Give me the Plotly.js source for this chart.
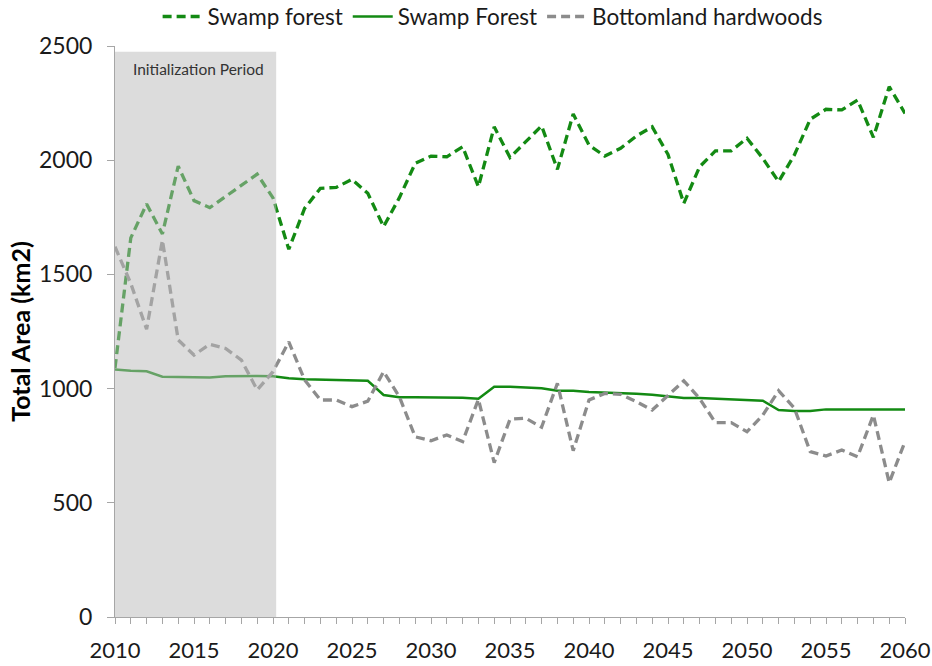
<!DOCTYPE html>
<html>
<head>
<meta charset="utf-8">
<script src="https://cdn.plot.ly/plotly-3.0.1.min.js"></script>
<style>html,body{margin:0;padding:0;background:#fff;}#chart{width:932px;height:666px;}</style>
</head>
<body>
<div id="chart"></div>
<script>
const years = [];
for (let y = 2010; y <= 2060; y++) years.push(y);

const swampForestDashed = [1090, 1660, 1808, 1677, 1974, 1823, 1792, 1840, 1890, 1939,
  1835, 1610, 1789, 1877, 1881, 1916, 1855, 1709, 1836, 1986,
  2018, 2015, 2059, 1884, 2146, 2012, 2081, 2150, 1960, 2202,
  2066, 2018, 2052, 2106, 2146, 2025, 1811, 1971, 2041, 2041,
  2096, 2008, 1906, 2023, 2179, 2223, 2220, 2263, 2100, 2322, 2205];

const swampForestSolid = [1084, 1078, 1076, 1052, 1051, 1051, 1049, 1054, 1056, 1055,
  1054, 1045, 1041, 1039, 1038, 1036, 1034, 972, 962, 962,
  962, 962, 960, 956, 1008, 1008, 1003, 1001, 991, 991,
  985, 983, 980, 977, 973, 966, 959, 959, 956, 955,
  953, 947, 906, 902, 902, 909, 909, 909, 909, 909, 909];

const bottomland = [1621, 1460, 1260, 1650, 1213, 1147, 1194, 1176, 1125, 994,
  1074, 1205, 1038, 950, 950, 921, 945, 1074, 964, 789,
  772, 797, 768, 953, 676, 866, 870, 831, 1023, 728,
  950, 979, 975, 943, 906, 972, 1034, 957, 851, 851,
  811, 884, 991, 914, 724, 705, 731, 702, 884, 588, 768];

const seriesNames = ["Swamp forest", "Swamp Forest", "Bottomland hardwoods"];
const initPeriod = [2010, 2020.2];
const tickYears = [2010, 2015, 2020, 2025, 2030, 2035, 2040, 2045, 2050, 2055, 2060];

const FONT = "Lato, 'Open Sans', 'Liberation Sans', sans-serif";

const traces = [
  {x: years, y: swampForestDashed, name: seriesNames[0], mode: "lines", type: "scatter",
   line: {color: "#138a13", width: 3.3, dash: "9px,5px"}},
  {x: years, y: swampForestSolid, name: seriesNames[1], mode: "lines", type: "scatter",
   line: {color: "#138a13", width: 2.5}},
  {x: years, y: bottomland, name: seriesNames[2], mode: "lines", type: "scatter",
   line: {color: "#8c8c8c", width: 3.3, dash: "9px,5px"}}
];

const layout = {
  width: 932, height: 666,
  margin: {l: 115, r: 27, t: 46, b: 49, autoexpand: false},
  paper_bgcolor: "#fff", plot_bgcolor: "#fff",
  font: {family: FONT, color: "#1a1a1a", size: 22},
  showlegend: true,
  legend: {orientation: "h", x: 0.478, xanchor: "center", y: 1.051, yanchor: "middle",
           font: {size: 22.5, family: FONT, color: "#1a1a1a"}, itemwidth: 40, tracegroupgap: 0,
           bgcolor: "rgba(0,0,0,0)"},
  xaxis: {range: [2010, 2060], tickvals: tickYears, showgrid: false, zeroline: false,
          showline: true, linecolor: "#a6a6a6", linewidth: 1,
          ticks: "outside", ticklen: 6, tickcolor: "#a6a6a6",
          minor: {dtick: 1, tick0: 2010, ticks: "outside", ticklen: 6, tickcolor: "#a6a6a6", showgrid: false},
          tickfont: {size: 22, family: FONT, color: "#1a1a1a"}, ticklabelstandoff: 8},
  yaxis: {range: [0, 2500], dtick: 500, tick0: 0, showgrid: false, zeroline: false,
          showline: true, linecolor: "#a6a6a6", linewidth: 1,
          ticks: "outside", ticklen: 7, tickcolor: "#a6a6a6",
          tickfont: {size: 23, family: FONT, color: "#1a1a1a"}, ticklabelstandoff: 10,
          title: {text: "Total Area (km2)", font: {size: 25, family: FONT, color: "#000", weight: "bold"}, standoff: 1}},
  shapes: [{type: "rect", xref: "x", yref: "y", x0: initPeriod[0], x1: initPeriod[1], y0: 0, y1: 2475,
            fillcolor: "rgba(185,185,185,0.5)", line: {width: 0}, layer: "above"}],
  annotations: [{text: "Initialization Period", xref: "x", yref: "y", x: 2011, y: 2400,
                 xanchor: "left", yanchor: "middle", showarrow: false,
                 font: {size: 15.5, family: FONT, color: "#333"}}]
};

Plotly.newPlot("chart", traces, layout, {displayModeBar: false, staticPlot: true});
</script>
</body>
</html>
